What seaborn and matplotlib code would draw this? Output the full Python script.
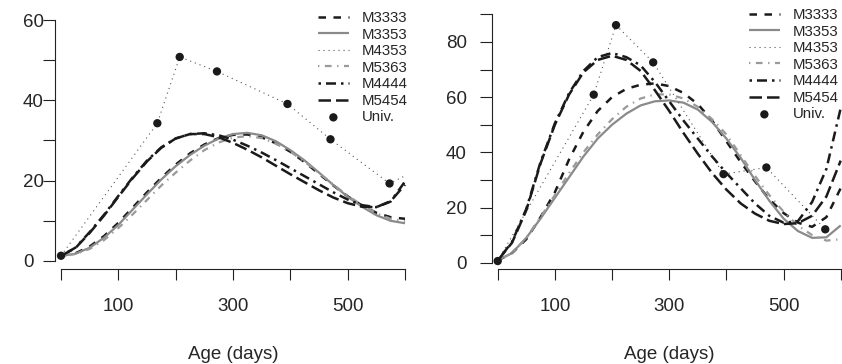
import matplotlib
matplotlib.use("Agg")
import matplotlib.pyplot as plt
import seaborn as sns

# ages (days) at which the fitted curves were read
days = list(range(0, 601, 25))

# left panel
l_m3333 = [1.3, 1.9, 3.6, 6.2, 9.5, 13.3, 17.1, 20.7, 24.0, 26.8, 29.0, 30.6, 31.4,
           31.5, 30.8, 29.3, 27.2, 24.6, 21.7, 18.8, 16.1, 13.8, 12.0, 10.9, 10.5]
l_m3353 = [1.3, 1.8, 3.3, 5.8, 9.0, 12.8, 16.6, 20.3, 23.6, 26.4, 28.7, 30.5, 31.6,
           31.9, 31.3, 29.8, 27.6, 25.0, 22.0, 18.9, 16.0, 13.5, 11.4, 10.0, 9.4]
l_m5363 = [1.3, 1.7, 3.0, 5.2, 8.2, 11.6, 15.2, 18.8, 22.0, 25.0, 27.6, 29.5, 30.7,
           31.1, 30.6, 29.2, 27.2, 24.7, 21.9, 19.0, 16.3, 13.9, 11.9, 10.5, 9.9]
l_m4444 = [1.3, 3.3, 7.2, 11.5, 16.2, 20.8, 25.0, 28.3, 30.5, 31.6, 31.8, 31.3, 30.2,
           28.7, 27.0, 25.1, 23.1, 21.1, 19.1, 17.1, 15.3, 13.9, 13.4, 14.8, 19.8]
l_m5454 = [1.3, 3.2, 7.0, 11.3, 16.0, 20.6, 24.8, 28.2, 30.5, 31.6, 31.6, 30.8, 29.4,
           27.7, 25.8, 23.7, 21.6, 19.6, 17.6, 15.8, 14.4, 13.5, 13.4, 14.9, 19.0]
l_m4353_days = [0, 168, 207, 272, 395, 470, 573, 600]
l_m4353 = [1.3, 34.3, 50.8, 47.2, 39.1, 30.3, 19.3, 21.2]
univ_days = [0, 168, 207, 272, 395, 470, 573]
l_univ = [1.3, 34.3, 50.8, 47.2, 39.1, 30.3, 19.3]

# right panel
r_m3333 = [0.8, 3.5, 8.5, 16.5, 25.5, 37.5, 47.5, 55.0, 60.0, 63.0, 64.5, 65.0, 64.0,
           61.5, 57.5, 51.5, 44.0, 36.5, 29.5, 23.0, 18.0, 14.5, 13.0, 16.5, 27.0]
r_m3353 = [0.8, 3.5, 9.0, 16.0, 23.5, 31.0, 38.5, 45.0, 50.0, 54.0, 57.0, 58.5, 58.8,
           58.0, 55.5, 51.0, 45.0, 38.0, 30.0, 22.5, 16.0, 11.5, 9.0, 9.2, 13.5]
r_m5363 = [0.8, 3.5, 9.0, 16.5, 24.5, 32.5, 40.0, 46.5, 52.0, 56.5, 59.5, 61.0, 61.0,
           59.5, 56.5, 52.0, 46.5, 39.0, 31.5, 24.5, 18.5, 13.5, 10.0, 8.0, 8.5]
r_m4444 = [0.8, 7.5, 19.5, 36.5, 50.5, 61.5, 69.5, 74.5, 76.0, 74.5, 71.5, 65.5, 58.5,
           51.5, 45.0, 38.5, 32.5, 27.0, 21.5, 17.0, 14.5, 15.0, 22.0, 34.0, 56.0]
r_m5454 = [0.8, 7.2, 19.0, 36.0, 50.0, 61.0, 69.0, 73.5, 75.0, 73.5, 69.5, 62.5, 55.0,
           47.0, 39.5, 32.5, 26.5, 21.5, 17.8, 15.2, 14.0, 14.3, 17.0, 24.0, 37.0]
r_m4353_days = [0, 168, 207, 272, 395, 470, 573]
r_m4353 = [0.6, 60.9, 86.1, 72.6, 32.1, 34.5, 12.1]
r_univ = [0.6, 60.9, 86.1, 72.6, 32.1, 34.5, 12.1]

model_names = ["M3333", "M3353", "M4353", "M5363", "M4444", "M5454"]
BLACK = "#1a1a1a"
GREY = "#8a8a8a"
LGREY = "#9a9a9a"
styles = {
    "M3333": dict(color=BLACK, lw=1.8, dashes=(3, 3)),
    "M3353": dict(color=GREY, lw=1.6, dashes=(None, None)),
    "M4353": dict(color="#555555", lw=0.8, dashes=(1, 3.5)),
    "M5363": dict(color=LGREY, lw=1.6, dashes=(0.6, 2.5, 3, 2.5)),
    "M4444": dict(color=BLACK, lw=1.8, dashes=(1, 2, 4, 2)),
    "M5454": dict(color=BLACK, lw=1.8, dashes=(5, 2)),
}

sns.set_theme(style="ticks")
plt.rcParams["font.family"] = ["Liberation Sans", "DejaVu Sans"]

W, H = 842, 364
fig = plt.figure(figsize=(W / 100, H / 100), dpi=100)


def px_axes(left, right, top, bottom):
    return fig.add_axes([left / W, 1 - bottom / H, (right - left) / W, (bottom - top) / H])


ax1 = px_axes(55, 410, 10, 269.3)
ax2 = px_axes(491.7, 842, 5, 268.7)

# left panel labels sit flush left (as in the original), right panel flush right
panels = [
    (ax1, [l_m3333, l_m3353, None, l_m5363, l_m4444, l_m5454], l_m4353_days, l_m4353, l_univ,
     (-10.5, 608.7), (-2.07, 62.49), 60, (318, 11), 178 / 355, 14.6, "left"),
    (ax2, [r_m3333, r_m3353, None, r_m5363, r_m4444, r_m5454], r_m4353_days, r_m4353, r_univ,
     (-10.5, 602.3), (-2.18, 93.4), 90, (749, 8), 177.5 / 350.3, 9.5, "right"),
]

for ax, curves, d43, v43, univ, xl, yl, ytop, leg_xy, xlab_x, ypad, yha in panels:
    for name, vals in zip(model_names, curves):
        st = styles[name]
        if vals is None:
            xs, ys = d43, v43
        else:
            xs, ys = days, vals
        sns.lineplot(x=xs, y=ys, ax=ax, color=st["color"], linewidth=st["lw"],
                     label=name, sort=False, estimator=None)
        ln = ax.get_lines()[-1]
        if st["dashes"][0] is not None:
            ln.set_dashes(st["dashes"])
        ln.set_solid_capstyle("butt")
        ln.set_dash_capstyle("butt")
    sns.scatterplot(x=univ_days, y=univ, ax=ax, color=BLACK, s=36, edgecolor="none",
                    label="Univ.", zorder=5)

    ax.set_xlim(*xl)
    ax.set_ylim(*yl)
    sns.despine(ax=ax)
    ax.spines["left"].set_bounds(0, ytop)
    ax.spines["bottom"].set_bounds(0, 600)
    for sp in ("left", "bottom"):
        ax.spines[sp].set_linewidth(0.8)
        ax.spines[sp].set_color("#222222")

    ax.set_xticks(range(0, 601, 100))
    ax.set_yticks(range(0, ytop + 1, 10))
    ax.tick_params(axis="x", length=8, width=0.8, pad=13, labelsize=13.5, color="#222222")
    ax.tick_params(axis="y", length=8.4, width=0.8, pad=ypad, labelsize=13.5, color="#222222")
    ax.set_xticklabels(["" if t % 200 == 0 else str(t) for t in range(0, 601, 100)])
    ax.set_yticklabels([str(t) if t % 20 == 0 else "" for t in range(0, ytop + 1, 10)], ha=yha)
    ax.set_xlabel("Age (days)", fontsize=13.5)
    ax.set_ylabel("")
    ax.xaxis.set_label_coords(xlab_x, -0.295)
    ax.xaxis.label.set_va("top")
    ax.grid(False)

    handles, labels = ax.get_legend_handles_labels()
    ax.legend(handles, labels, loc="upper left", frameon=False,
              bbox_to_anchor=(leg_xy[0] / W, 1 - leg_xy[1] / H), bbox_transform=fig.transFigure,
              borderpad=0, borderaxespad=0, fontsize=10.8, handlelength=2.05,
              handletextpad=0.85, labelspacing=0.17)

fig.savefig("out.png", dpi=100)
